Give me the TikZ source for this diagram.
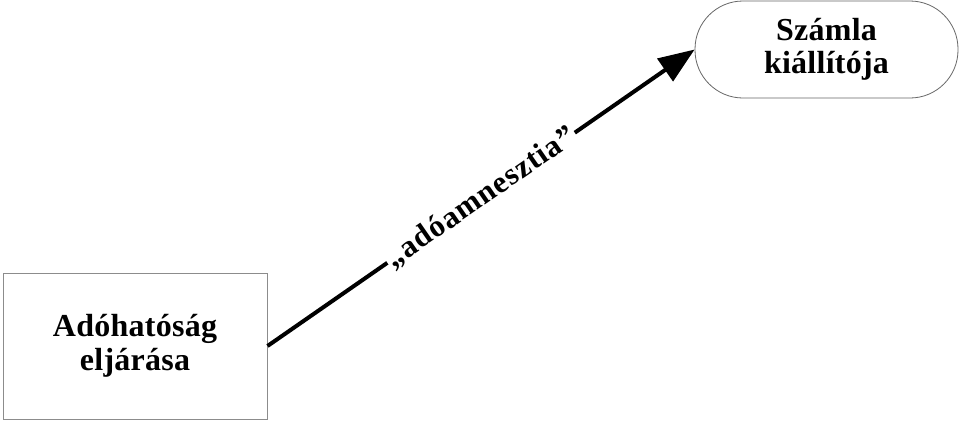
\documentclass[tikz,border=0pt]{standalone}
\usepackage{fontspec}
\setmainfont{Liberation Serif}
\newfontfamily\boxfont[LetterSpace=0.8]{Liberation Serif}
\newfontfamily\labelfont[LetterSpace=3]{Liberation Serif}
\usetikzlibrary{arrows.meta}
\tikzset{
  boxtext/.style={font=\boxfont\fontsize{32}{33.5}\selectfont\bfseries, align=center, text=black},
  procbox/.style={boxtext, draw=black!45, line width=1pt, minimum width=264pt, minimum height=146pt, inner sep=0pt},
  termbox/.style={boxtext, draw=black!60, line width=0.8pt, rounded corners=48pt, minimum width=263pt, minimum height=97pt, inner sep=0pt},
  flow/.style={line width=4pt, -{Triangle[length=36pt,width=27pt]}},
  flowlabel/.style={font=\labelfont\fontsize{31}{32}\selectfont\bfseries, fill=white, inner sep=2pt, sloped}
}
\begin{document}
\begin{tikzpicture}[x=1pt,y=-1pt]
\useasboundingbox (0,0) rectangle (960,421);
\node[procbox] (a) at (135,346) {Adóhatóság\\eljárása};
\node[termbox] (b) at (826.5,49.5) {Számla\\kiállítója};
\draw[flow] (a.east) -- node[flowlabel] (l) {„adóamnesztia”} (b.west);
\end{tikzpicture}
\end{document}
